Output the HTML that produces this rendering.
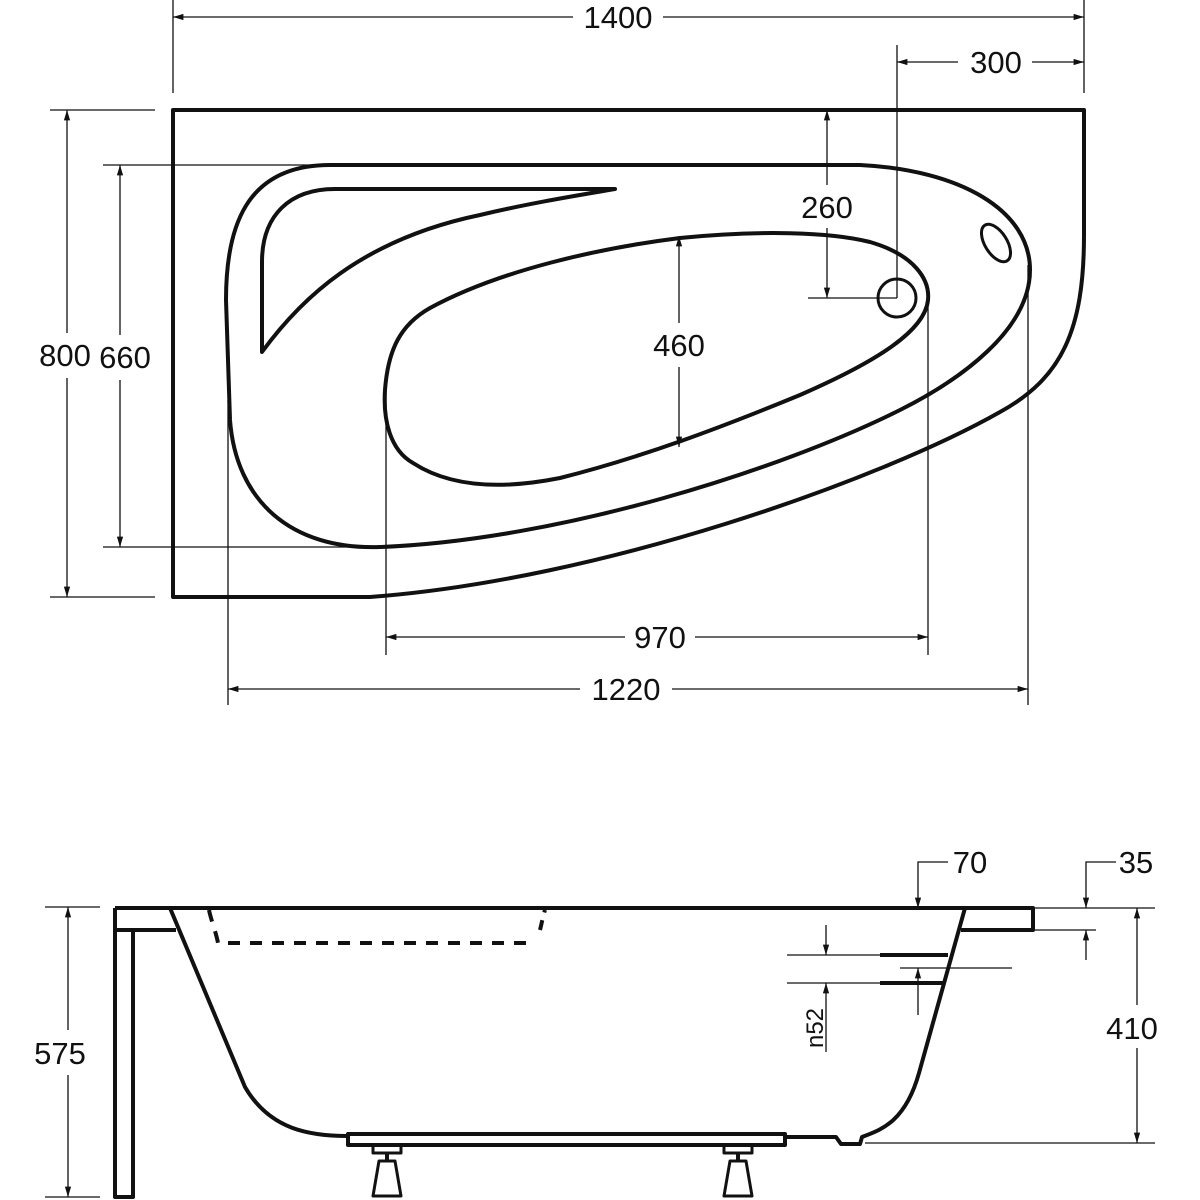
<!DOCTYPE html>
<html><head><meta charset="utf-8"><style>
html,body{margin:0;padding:0;background:#fff;}
svg{display:block;}
text{font-family:"Liberation Sans",sans-serif;font-size:31px;fill:#111;}
</style></head><body>
<svg width="1200" height="1200" viewBox="0 0 1200 1200" xmlns="http://www.w3.org/2000/svg">
<defs>
<marker id="a" viewBox="0 0 10 10" refX="10" refY="5" markerWidth="8" markerHeight="8" orient="auto-start-reverse"><path d="M0,2 L10,5 L0,8 Z" fill="#111"/></marker>
</defs>
<g fill="none" stroke="#111" stroke-width="4" stroke-linejoin="round">
<path d="M173,110 H1084 V235 C1084,330 1062,378 1000,412 C880,480 600,580 370,597 H173 Z"/>
<path d="M330,165 H860 C960,170 1030,210 1030,270 C1030,330 960,380 900,410 C780,470 560,540 380,547 C290,550 236,500 230,420 L226,300 C226,228 245,165 330,165 Z"/>
<path d="M615,189 H335 C290,189 262,215 262,262 V352 C300,300 360,240 480,215 C530,203 580,195 615,189 Z"/>
<path d="M680,238 C760,230 830,232 870,242 C915,255 930,280 928,300 C925,330 880,360 800,395 C720,428 640,458 560,478 C500,490 450,487 413,463 C390,450 383,420 385,390 C388,350 400,325 430,308 C500,270 600,248 680,238 Z"/>
<circle cx="897" cy="298" r="19" stroke-width="3"/>
<ellipse cx="996" cy="243" rx="11" ry="21" transform="rotate(-32 996 243)" stroke-width="3"/>
</g>
<g fill="none" stroke="#111" stroke-width="1.3">
<line x1="173" y1="0" x2="173" y2="93"/><line x1="1084" y1="0" x2="1084" y2="93"/>
<line x1="173" y1="17" x2="573" y2="17" marker-start="url(#a)"/><line x1="663" y1="17" x2="1084" y2="17" marker-end="url(#a)"/>
<line x1="897" y1="45" x2="897" y2="298"/>
<line x1="897" y1="62" x2="958" y2="62" marker-start="url(#a)"/><line x1="1032" y1="62" x2="1084" y2="62" marker-end="url(#a)"/>
<line x1="50" y1="110" x2="155" y2="110"/><line x1="50" y1="597" x2="155" y2="597"/>
<line x1="67" y1="110" x2="67" y2="333" marker-start="url(#a)"/><line x1="67" y1="378" x2="67" y2="597" marker-end="url(#a)"/>
<line x1="103" y1="165" x2="330" y2="165"/><line x1="103" y1="547" x2="380" y2="547"/>
<line x1="120" y1="165" x2="120" y2="335" marker-start="url(#a)"/><line x1="120" y1="380" x2="120" y2="547" marker-end="url(#a)"/>
<line x1="827" y1="110" x2="827" y2="185" marker-start="url(#a)"/><line x1="827" y1="228" x2="827" y2="298" marker-end="url(#a)"/>
<line x1="808" y1="298" x2="897" y2="298"/>
<line x1="679" y1="236" x2="679" y2="323" marker-start="url(#a)"/><line x1="679" y1="367" x2="679" y2="447" marker-end="url(#a)"/>
<line x1="386" y1="390" x2="386" y2="655"/><line x1="928" y1="300" x2="928" y2="655"/>
<line x1="386" y1="637" x2="625" y2="637" marker-start="url(#a)"/><line x1="695" y1="637" x2="928" y2="637" marker-end="url(#a)"/>
<line x1="228" y1="400" x2="228" y2="705"/><line x1="1028" y1="265" x2="1028" y2="705"/>
<line x1="228" y1="689" x2="580" y2="689" marker-start="url(#a)"/><line x1="672" y1="689" x2="1028" y2="689" marker-end="url(#a)"/>
</g>
<text x="618" y="28" text-anchor="middle">1400</text>
<text x="996" y="73" text-anchor="middle">300</text>
<text x="65" y="366" text-anchor="middle">800</text>
<text x="125" y="368" text-anchor="middle">660</text>
<text x="827" y="218" text-anchor="middle">260</text>
<text x="679" y="356" text-anchor="middle">460</text>
<text x="660" y="648" text-anchor="middle">970</text>
<text x="626" y="700" text-anchor="middle">1220</text>

<g fill="none" stroke="#111" stroke-width="4" stroke-linejoin="round">
<path d="M115,908 H1033 V930 H961"/>
<path d="M115,908 V1197 H133 V930 H176"/>
<line x1="115" y1="930" x2="176" y2="930"/>
<path d="M170,908 L245,1087 C270,1130 310,1136 348,1136"/>
<path d="M965,908 L919,1073 C905,1123 880,1130 862,1137 L860,1144 H841 L836,1137 H785"/>
<rect x="348" y="1134" width="437" height="11"/>
<path d="M209,910 C211,920 216,932 218,943" stroke-dasharray="12 10"/>
<line x1="228" y1="943" x2="530" y2="943" stroke-dasharray="12 10"/>
<path d="M540,930 C542,922 543,916 545,910" stroke-dasharray="10 8"/>
<line x1="880" y1="955" x2="948" y2="955"/>
<line x1="880" y1="983" x2="944" y2="983"/>
<rect x="373" y="1145" width="28" height="8" stroke-width="3"/>
<line x1="387" y1="1153" x2="387" y2="1161"/>
<path d="M379,1161 H395 L401,1196 H373 Z" stroke-width="3"/>
<rect x="724" y="1145" width="28" height="8" stroke-width="3"/>
<line x1="738" y1="1153" x2="738" y2="1161"/>
<path d="M730,1161 H746 L752,1196 H724 Z" stroke-width="3"/>
</g>
<g fill="none" stroke="#111" stroke-width="1.3">
<line x1="45" y1="907" x2="100" y2="907"/><line x1="45" y1="1197" x2="100" y2="1197"/>
<line x1="68" y1="907" x2="68" y2="1030" marker-start="url(#a)"/><line x1="68" y1="1075" x2="68" y2="1197" marker-end="url(#a)"/>
<line x1="787" y1="955" x2="880" y2="955"/><line x1="787" y1="983" x2="880" y2="983"/>
<line x1="900" y1="968" x2="1012" y2="968"/>
<line x1="826" y1="925" x2="826" y2="955" marker-end="url(#a)"/>
<line x1="826" y1="1052" x2="826" y2="983" marker-end="url(#a)"/>
<line x1="918" y1="1015" x2="918" y2="968" marker-end="url(#a)"/>
<path d="M948,862 H918 V908" marker-end="url(#a)"/>
<path d="M1116,862 H1086 V908" marker-end="url(#a)"/>
<line x1="1033" y1="908" x2="1155" y2="908"/>
<line x1="1033" y1="930" x2="1096" y2="930"/>
<line x1="1086" y1="960" x2="1086" y2="930" marker-end="url(#a)"/>
<line x1="1137" y1="908" x2="1137" y2="1005" marker-start="url(#a)"/><line x1="1137" y1="1048" x2="1137" y2="1143" marker-end="url(#a)"/>
<line x1="865" y1="1143" x2="1155" y2="1143"/>
</g>
<text x="60" y="1064" text-anchor="middle">575</text>
<text x="970" y="873" text-anchor="middle">70</text>
<text x="1136" y="873" text-anchor="middle">35</text>
<text x="1132" y="1039" text-anchor="middle">410</text>
<text x="0" y="0" text-anchor="middle" transform="translate(823,1028) rotate(-90)" style="font-size:24px">n52</text>
</svg>
</body></html>
